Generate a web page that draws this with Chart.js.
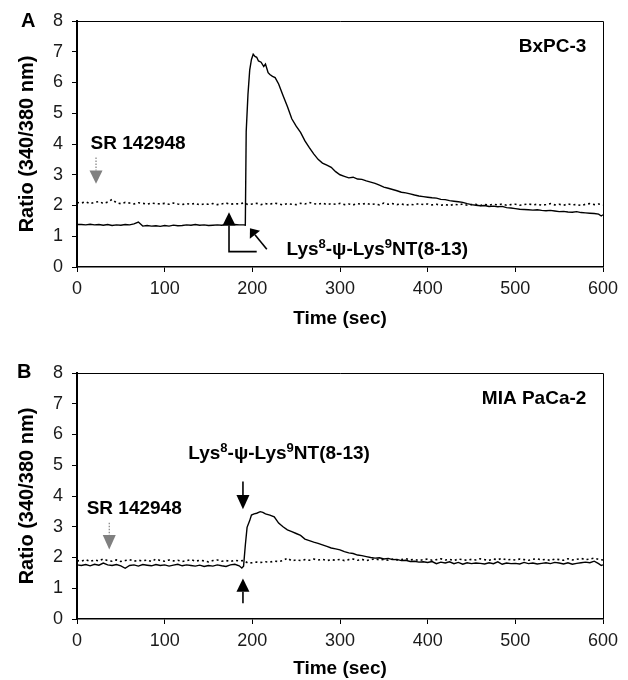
<!DOCTYPE html>
<html>
<head>
<meta charset="utf-8">
<title>Ratio 340/380 nm</title>
<script src="https://cdn.jsdelivr.net/npm/chart.js@4.4.1/dist/chart.umd.min.js"></script>
<style>
  html, body { margin: 0; padding: 0; background: #fff; }
  #wrap { position: relative; width: 628px; height: 680px; }
  canvas { position: absolute; left: 0; }
</style>
</head>
<body>
<div id="wrap">
  <canvas id="chartA" width="628" height="340" style="top:0"></canvas>
  <canvas id="chartB" width="628" height="340" style="top:340px"></canvas>
</div>
<script>
// time grid (sec) for the dotted control traces
const times5 = [];
for (let t = 0; t <= 600; t += 5) times5.push(t);

const xTicks = [0, 100, 200, 300, 400, 500, 600];
const yTicks = [0, 1, 2, 3, 4, 5, 6, 7, 8];

// Panel A - BxPC-3, agonist trace (solid)
const timeA = [0,5,10,15,20,25,30,35,40,45,50,55,60,65,70,75,80,85,90,95,
  100,105,110,115,120,125,130,135,140,145,150,155,160,165,170,175,180,185,190,
  192,193,195,197,199,201,203,205,207,210,213,215,218,220,223,226,
  230,235,240,245,250,255,260,265,270,275,280,285,290,295,300,305,310,315,320,325,
  330,335,340,345,350,355,360,365,370,375,380,385,390,395,400,405,410,415,420,425,
  430,435,440,445,450,455,460,465,470,475,480,485,490,495,500,505,510,515,520,525,
  530,535,540,545,550,555,560,565,570,575,580,585,590,595,598,600];
const ratioA = [1.38,1.38,1.37,1.39,1.37,1.38,1.36,1.38,1.35,1.37,1.36,1.38,1.37,1.40,1.46,1.33,1.35,1.33,1.34,1.32,
  1.35,1.33,1.36,1.34,1.35,1.37,1.36,1.38,1.36,1.37,1.35,1.36,1.37,1.36,1.38,1.37,1.38,1.37,1.37,
  1.36,4.4,5.6,6.4,6.75,6.92,6.85,6.82,6.7,6.66,6.52,6.6,6.32,6.26,6.2,6.16,
  5.95,5.58,5.22,4.82,4.58,4.38,4.1,3.88,3.68,3.5,3.38,3.31,3.24,3.1,3.0,2.95,2.9,2.92,2.86,2.85,
  2.8,2.76,2.72,2.66,2.6,2.56,2.52,2.48,2.43,2.41,2.38,2.34,2.31,2.29,2.27,2.25,2.24,2.2,2.19,2.16,
  2.14,2.12,2.1,2.06,2.03,2.01,1.99,2.0,1.97,1.98,1.96,1.97,1.93,1.92,1.9,1.88,1.87,1.86,1.85,1.86,
  1.84,1.83,1.84,1.82,1.8,1.81,1.79,1.78,1.8,1.77,1.76,1.75,1.74,1.72,1.66,1.7];
// Panel A - SR 142948 pretreated trace (dotted), on times5
const ratioA_SR = [2.1,2.08,2.12,2.06,2.1,2.13,2.07,2.11,2.2,2.09,2.06,2.1,2.08,2.05,2.09,2.07,2.04,2.08,2.06,2.05,
  2.07,2.04,2.08,2.05,2.03,2.06,2.04,2.07,2.02,2.05,2.04,2.06,2.03,2.05,2.08,2.04,2.06,2.05,2.08,2.03,
  2.05,2.07,2.03,2.06,2.04,2.08,2.05,2.02,2.06,2.04,2.03,2.07,2.05,2.1,2.06,2.04,2.08,2.03,2.06,2.04,
  2.07,2.03,2.05,2.02,2.06,2.04,2.07,2.03,2.05,2.02,2.08,2.04,2.06,2.03,2.05,2.01,2.04,2.02,2.06,2.03,
  2.05,2.02,2.04,2.01,2.03,2.0,2.04,2.02,2.05,2.01,2.03,2.04,2.0,2.03,2.01,2.04,2.02,2.05,2.01,2.03,
  2.04,2.01,2.03,2.05,2.02,2.04,2.01,2.03,2.06,2.02,2.04,2.01,2.05,2.02,2.03,2.0,2.04,2.06,2.03,2.05,
  2.02];

// Panel B - MIA PaCa-2, agonist trace (solid)
const timeB = [0,5,10,15,20,25,30,35,40,45,50,55,60,65,70,75,80,85,90,95,
  100,105,110,115,120,125,130,135,140,145,150,155,160,165,170,175,180,185,
  188,190,192,194,197,199,202,205,209,212,215,220,225,
  230,235,240,245,250,255,260,265,270,275,280,285,290,295,300,305,310,315,320,325,
  330,335,340,345,350,355,360,365,370,375,380,385,390,395,400,405,410,415,420,425,
  430,435,440,445,450,455,460,465,470,475,480,485,490,495,500,505,510,515,520,525,
  530,535,540,545,550,555,560,565,570,575,580,585,590,595,598,600];
const ratioB = [1.76,1.74,1.77,1.73,1.78,1.75,1.82,1.76,1.74,1.77,1.73,1.65,1.74,1.76,1.72,1.77,1.75,1.73,1.77,1.74,
  1.76,1.72,1.75,1.78,1.73,1.76,1.74,1.72,1.75,1.71,1.74,1.72,1.76,1.73,1.71,1.76,1.78,1.73,
  1.66,1.72,2.4,2.98,3.2,3.38,3.42,3.44,3.49,3.47,3.42,3.38,3.32,
  3.12,3.0,2.9,2.84,2.78,2.72,2.6,2.55,2.5,2.46,2.41,2.36,2.31,2.28,2.25,2.19,2.15,2.13,2.08,2.06,
  2.03,2.0,1.98,1.99,1.95,1.97,1.93,1.94,1.9,1.91,1.87,1.88,1.85,1.86,1.84,1.87,1.8,1.85,1.82,1.86,
  1.8,1.84,1.78,1.83,1.8,1.82,1.81,1.79,1.83,1.8,1.86,1.78,1.82,1.8,1.81,1.79,1.84,1.8,1.82,1.79,
  1.81,1.83,1.8,1.84,1.82,1.79,1.83,1.78,1.81,1.83,1.85,1.83,1.88,1.8,1.74,1.76];
// Panel B - SR 142948 pretreated trace (dotted), on times5
const ratioB_SR = [1.9,1.88,1.93,1.87,1.92,1.89,1.95,1.9,1.88,1.92,1.87,1.9,1.93,1.88,1.91,1.89,1.92,1.87,1.95,1.9,
  1.88,1.92,1.89,1.91,1.87,1.9,1.93,1.88,1.91,1.89,1.86,1.9,1.92,1.88,1.9,1.87,1.91,1.89,1.9,1.82,
  1.83,1.85,1.84,1.86,1.85,1.88,1.87,1.9,1.98,1.89,1.92,1.9,1.93,1.91,1.95,1.92,1.94,1.9,1.93,1.91,
  1.94,1.9,1.93,1.95,1.91,1.94,1.9,1.93,1.96,1.92,1.94,1.91,1.95,1.92,1.93,1.96,1.92,1.94,1.9,1.93,
  1.95,1.91,1.93,1.96,1.92,1.94,1.9,1.95,1.93,1.91,1.94,1.92,1.96,1.93,1.91,1.95,1.93,1.97,1.92,1.94,
  1.92,1.95,1.93,1.91,1.94,1.96,1.92,1.94,1.9,1.95,1.93,1.91,1.96,1.92,1.94,1.97,1.93,1.95,1.98,1.94,
  1.92];

const FONT = "'Liberation Sans', Arial, Helvetica, sans-serif";

function toPoints(xs, ys) {
  return xs.map((x, i) => ({ x: x, y: ys[i] }));
}

// filled triangle head pointing from (bx,by) to (tx,ty)
function arrowHead(ctx, bx, by, tx, ty, halfW, color) {
  const ang = Math.atan2(ty - by, tx - bx);
  const len = Math.hypot(tx - bx, ty - by);
  ctx.save();
  ctx.translate(tx, ty);
  ctx.rotate(ang);
  ctx.beginPath();
  ctx.moveTo(0, 0);
  ctx.lineTo(-len, -halfW);
  ctx.lineTo(-len, halfW);
  ctx.closePath();
  ctx.fillStyle = color;
  ctx.fill();
  ctx.restore();
}

function drawLys(ctx, x, y) {
  const parts = [['Lys', false], ['8', true], ['-\u03c8-Lys', false], ['9', true], ['NT(8-13)', false]];
  ctx.textAlign = 'left';
  ctx.textBaseline = 'alphabetic';
  parts.forEach(p => {
    ctx.font = p[1] ? 'bold 13px ' + FONT : 'bold 19px ' + FONT;
    ctx.fillText(p[0], x, p[1] ? y - 7.5 : y);
    x += ctx.measureText(p[0]).width;
  });
}

// frame, panel letter, labels and arrows
const figureMarks = {
  id: 'figureMarks',
  afterDraw(chart) {
    const o = chart.options.plugins.figureMarks;
    const ctx = chart.ctx;
    const a = chart.chartArea;
    const sx = chart.scales.x, sy = chart.scales.y;
    const px = t => sx.getPixelForValue(t);
    const py = v => sy.getPixelForValue(v);
    ctx.save();
    // top and right frame lines
    ctx.strokeStyle = '#000';
    ctx.lineWidth = 1;
    ctx.beginPath();
    ctx.moveTo(a.left, a.top + 0.5);
    ctx.lineTo(a.right + 0.5, a.top + 0.5);
    ctx.lineTo(a.right + 0.5, a.bottom);
    ctx.stroke();

    ctx.fillStyle = '#000';
    ctx.font = 'bold 20px ' + FONT;
    ctx.textAlign = 'left';
    ctx.textBaseline = 'alphabetic';
    ctx.fillText(o.letter, o.letterX, o.letterY);

    ctx.font = 'bold 19px ' + FONT;
    ctx.textAlign = 'right';
    ctx.fillText(o.cell, px(o.cellAt[0]), py(o.cellAt[1]));
    ctx.textAlign = 'left';
    ctx.fillText('SR 142948', px(o.srAt[0]), py(o.srAt[1]));
    drawLys(ctx, px(o.lysAt[0]), py(o.lysAt[1]));

    o.arrows.forEach(ar => {
      const pts = ar.stem.map(p => [px(p[0]), py(p[1])]);
      ctx.strokeStyle = ar.color;
      ctx.lineWidth = ar.dotted ? 1.2 : 1.6;
      ctx.setLineDash(ar.dotted ? [1.5, 1.5] : []);
      ctx.beginPath();
      ctx.moveTo(pts[0][0], pts[0][1]);
      for (let i = 1; i < pts.length; i++) ctx.lineTo(pts[i][0], pts[i][1]);
      ctx.stroke();
      ctx.setLineDash([]);
      const b = pts[pts.length - 1];
      arrowHead(ctx, b[0], b[1], px(ar.tip[0]), py(ar.tip[1]), 6.5, ar.color);
    });
    ctx.restore();
  }
};

function makePanel(id, solidT, solidV, dotT, dotV, topPad, xAxisH, titlePad, marks) {
  return new Chart(document.getElementById(id), {
    type: 'line',
    data: {
      datasets: [
        { data: toPoints(solidT, solidV), borderColor: '#000', borderWidth: 1.4,
          pointRadius: 0, tension: 0, fill: false },
        { data: toPoints(dotT, dotV), borderColor: '#000', borderWidth: 1.6, borderDash: [2, 3],
          pointRadius: 0, tension: 0, fill: false }
      ]
    },
    options: {
      responsive: false,
      animation: false,
      events: [],
      layout: { padding: { top: topPad, right: 25, left: 0, bottom: 0 } },
      plugins: { legend: { display: false }, tooltip: { enabled: false }, figureMarks: marks },
      scales: {
        x: {
          type: 'linear', min: 0, max: 600,
          afterBuildTicks: s => { s.ticks = xTicks.map(v => ({ value: v })); },
          afterFit: s => { s.height = xAxisH; },
          ticks: { font: { size: 18, family: FONT }, color: '#1a1a1a', padding: 6, maxRotation: 0 },
          grid: { drawOnChartArea: false, tickLength: 5, color: '#000' },
          border: { color: '#000', width: 1.5 },
          title: { display: true, text: 'Time (sec)', color: '#000',
            font: { size: 19, weight: 'bold', family: FONT }, padding: { top: 0, bottom: titlePad } }
        },
        y: {
          min: 0, max: 8,
          afterBuildTicks: s => { s.ticks = yTicks.map(v => ({ value: v })); },
          afterFit: s => { s.width = 77; },
          ticks: { font: { size: 18, family: FONT }, color: '#1a1a1a', padding: 9 },
          grid: { drawOnChartArea: false, tickLength: 5, color: '#000' },
          border: { color: '#000', width: 2 },
          title: { display: true, text: 'Ratio (340/380 nm)', color: '#000',
            font: { size: 20, weight: 'bold', family: FONT }, padding: { top: 15, bottom: 0 } }
        }
      }
    },
    plugins: [figureMarks]
  });
}

makePanel('chartA', timeA, ratioA, times5, ratioA_SR, 21, 73, 10, {
  letter: 'A', letterX: 21, letterY: 27,
  cell: 'BxPC-3', cellAt: [581, 7.0],
  srAt: [15.5, 3.85],
  lysAt: [239, 0.38],
  arrows: [
    { stem: [[21.7, 3.56], [21.7, 3.14]], tip: [21.7, 2.71], color: '#808080', dotted: true },
    { stem: [[205, 0.5], [173.4, 0.5], [173.4, 1.35]], tip: [173.4, 1.78], color: '#000' },
    { stem: [[216.5, 0.58], [203, 1.05]], tip: [197.3, 1.26], color: '#000' }
  ]
});

makePanel('chartB', timeB, ratioB, times5, ratioB_SR, 33, 61, 0, {
  letter: 'B', letterX: 17, letterY: 38,
  cell: 'MIA PaCa-2', cellAt: [581, 7.0],
  srAt: [11, 3.4],
  lysAt: [127, 5.19],
  arrows: [
    { stem: [[36.8, 3.13], [36.8, 2.73]], tip: [36.8, 2.26], color: '#808080', dotted: true },
    { stem: [[189.3, 4.47], [189.3, 4.03]], tip: [189.3, 3.57], color: '#000' },
    { stem: [[189.3, 0.51], [189.3, 0.89]], tip: [189.3, 1.32], color: '#000' }
  ]
});
</script>
</body>
</html>
